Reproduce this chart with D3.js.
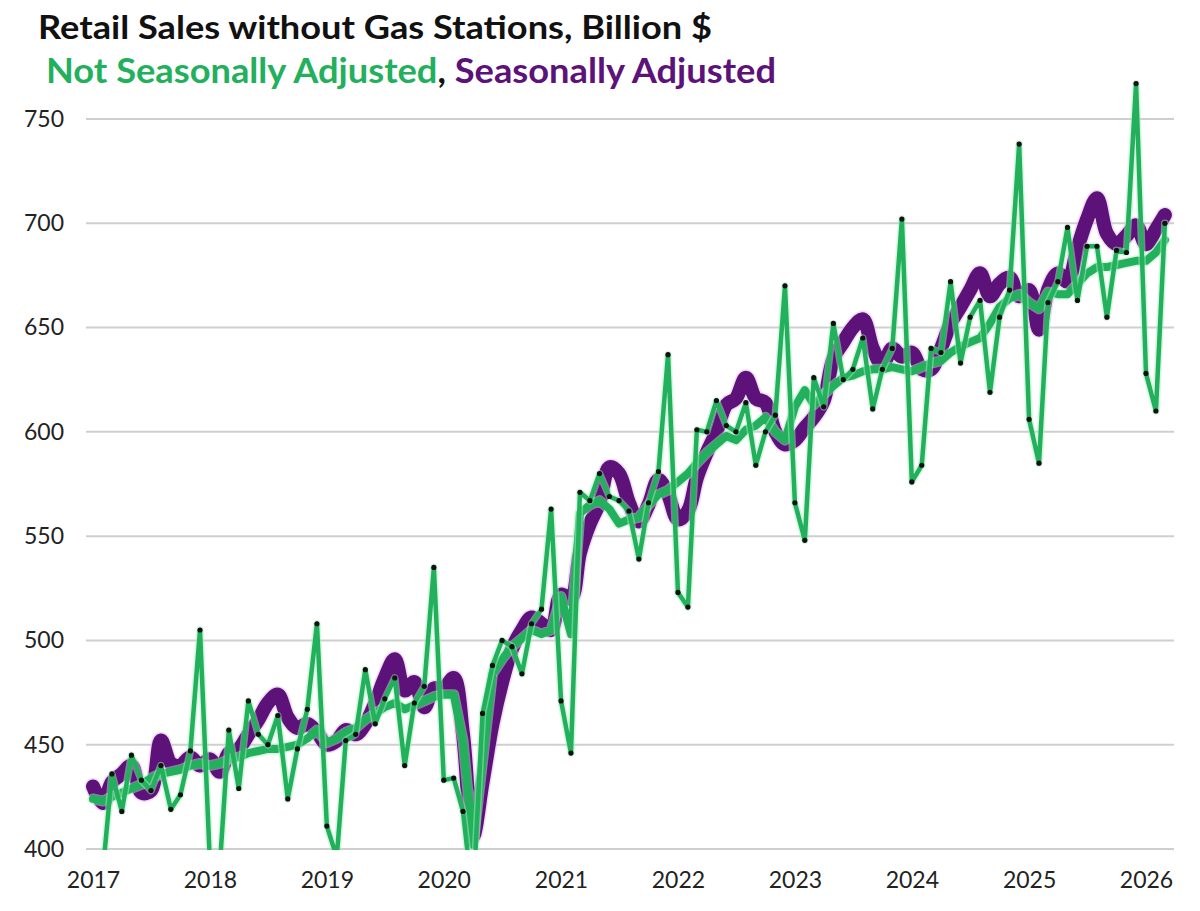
<!DOCTYPE html>
<html>
<head>
<meta charset="utf-8">
<script src="https://cdn.jsdelivr.net/npm/d3@7"></script>
<style>
  body { margin: 0; background: #fff; }
  svg { display: block; font-family: Lato, "Open Sans", sans-serif; }
</style>
</head>
<body>
<svg id="chart" width="1200" height="911"></svg>
<script>
// monthly values, Jan 2017 .. Mar 2026
const firstMonth = new Date(2017, 0, 1);

const nsa = [
  393, 390, 436, 418, 445, 433, 428, 440, 419, 426, 447, 505,
  393, 392, 457, 429, 471, 455, 450, 464, 424, 448, 467, 508,
  411, 396, 452, 455, 486, 460, 472, 482, 440, 470, 478, 535,
  433, 434, 418, 375, 465, 488, 500, 497, 484, 508, 515, 563,
  471, 446, 571, 567, 580, 569, 567, 562, 539, 566, 581, 637,
  523, 516, 601, 600, 615, 603, 600, 614, 584, 600, 608, 670,
  566, 548, 626, 612, 652, 625, 630, 645, 611, 630, 640, 702,
  576, 584, 640, 638, 672, 633, 655, 663, 619, 655, 668, 738,
  606, 585, 662, 672, 698, 663, 689, 689, 655, 687, 686, 767,
  628, 610, 700
];

const sa = [
  430, 422, 432, 436, 440, 427, 428, 452, 441, 440, 444, 440,
  443, 437, 446, 448, 455, 462, 470, 474, 463, 458, 460, 456,
  450, 452, 457, 455, 460, 470, 482, 491, 476, 480, 468, 477,
  477, 482, 455, 406, 432, 460, 480, 496, 505, 511, 508, 505,
  522, 520, 542, 556, 566, 583, 580, 566, 557, 565, 577, 570,
  558, 562, 578, 590, 600, 613, 616, 626, 616, 614, 600, 594,
  596, 602, 607, 615, 635, 643, 650, 654, 640, 632, 640, 636,
  638, 630, 630, 640, 652, 660, 668, 676, 665, 671, 674, 665,
  668, 649, 668, 676, 672, 688, 702, 712, 695, 690, 694, 699,
  690, 697, 704
];

// the thick green line
const trend = [
  424, 423, 425, 427, 429, 431, 434, 436, 437, 438, 440, 441,
  440, 441, 443, 444, 446, 447, 448, 448, 449, 450, 453, 457,
  451, 453, 456, 458, 462, 465, 468, 470, 467, 469, 471, 473,
  474, 474, 452, 402, 442, 484, 491, 497, 501, 505, 503, 505,
  521, 503, 561, 565, 567, 563, 556, 558, 559, 565, 570, 572,
  576, 580, 585, 590, 594, 598, 596, 601, 603, 607, 600, 596,
  612, 620, 613, 618, 622, 626, 627, 629, 630, 630, 631, 630,
  629, 631, 633, 634, 638, 641, 643, 645, 652, 660, 664, 666,
  662, 659, 667, 666, 666, 671, 676, 679, 679, 680, 681, 682,
  682, 686, 692
];

const yTicks = [400, 450, 500, 550, 600, 650, 700, 750];
const xTicks = [2017, 2018, 2019, 2020, 2021, 2022, 2023, 2024, 2025, 2026];

const green = '#22b05c';
const purple = '#5c1278';

const svg = d3.select('#chart');

const x = d3.scaleTime()
  .domain([new Date(2017, 0, 1), new Date(2026, 0, 1)])
  .range([93, 1146]);
const y = d3.scaleLinear()
  .domain([400, 750])
  .range([849, 119]);

const months = d3.timeMonth.range(firstMonth, d3.timeMonth.offset(firstMonth, nsa.length));

// title
svg.append('text')
  .attr('x', 38)
  .attr('y', 39)
  .attr('font-size', 33)
  .attr('font-weight', 700)
  .attr('fill', '#111')
  .attr('textLength', 674)
  .attr('lengthAdjust', 'spacingAndGlyphs')
  .text('Retail Sales without Gas Stations, Billion $');

const sub = svg.append('text')
  .attr('x', 46)
  .attr('y', 83)
  .attr('font-size', 34)
  .attr('font-weight', 700)
  .attr('textLength', 730)
  .attr('lengthAdjust', 'spacingAndGlyphs');
sub.append('tspan').attr('fill', green).text('Not Seasonally Adjusted');
sub.append('tspan').attr('fill', '#111').text(', ');
sub.append('tspan').attr('fill', purple).text('Seasonally Adjusted');

// grid
svg.append('g')
  .selectAll('line')
  .data(yTicks)
  .join('line')
  .attr('x1', 86)
  .attr('x2', 1174)
  .attr('y1', d => y(d))
  .attr('y2', d => y(d))
  .attr('stroke', '#cfcfcf')
  .attr('stroke-width', 2);

// axes
const yAxis = svg.append('g')
  .attr('transform', 'translate(64,0)')
  .call(d3.axisLeft(y).tickValues(yTicks).tickSize(0).tickPadding(0));
yAxis.select('.domain').remove();
yAxis.selectAll('text')
  .attr('font-family', 'Lato, sans-serif')
  .attr('font-size', 23)
  .attr('fill', '#222');

const xAxis = svg.append('g')
  .attr('transform', 'translate(0,866)')
  .call(d3.axisBottom(x)
    .tickValues(xTicks.map(yr => new Date(yr, 0, 1)))
    .tickFormat(d3.timeFormat('%Y'))
    .tickSize(0)
    .tickPadding(6));
xAxis.select('.domain').remove();
xAxis.selectAll('text')
  .attr('font-family', 'Lato, sans-serif')
  .attr('font-size', 23)
  .attr('fill', '#222');

// plot clipped at the 400 line
svg.append('clipPath')
  .attr('id', 'plot-clip')
  .append('rect')
  .attr('x', 0)
  .attr('y', 0)
  .attr('width', 1200)
  .attr('height', 850);

const plot = svg.append('g').attr('clip-path', 'url(#plot-clip)');

const smoothLine = d3.line()
  .x((d, i) => x(months[i]))
  .y(d => y(d))
  .curve(d3.curveCatmullRom.alpha(0.5));

const straightLine = d3.line()
  .x((d, i) => x(months[i]))
  .y(d => y(d));

function drawLine (values, gen, color, width, glow) {
  plot.append('path')
    .datum(values)
    .attr('d', gen)
    .attr('fill', 'none')
    .attr('stroke', glow)
    .attr('stroke-opacity', 0.5)
    .attr('stroke-width', width + 3)
    .attr('stroke-linejoin', 'round')
    .attr('stroke-linecap', 'round');
  plot.append('path')
    .datum(values)
    .attr('d', gen)
    .attr('fill', 'none')
    .attr('stroke', color)
    .attr('stroke-width', width)
    .attr('stroke-linejoin', 'round')
    .attr('stroke-linecap', 'round');
}

drawLine(sa, smoothLine, purple, 14, '#e3b8f0');
drawLine(trend, straightLine, green, 8, '#a8f0c0');
drawLine(nsa, straightLine, green, 4.5, '#a8f0c0');

plot.append('g')
  .selectAll('circle')
  .data(nsa)
  .join('circle')
  .attr('cx', (d, i) => x(months[i]))
  .attr('cy', d => y(d))
  .attr('r', 2.6)
  .attr('fill', '#111');
</script>
</body>
</html>
